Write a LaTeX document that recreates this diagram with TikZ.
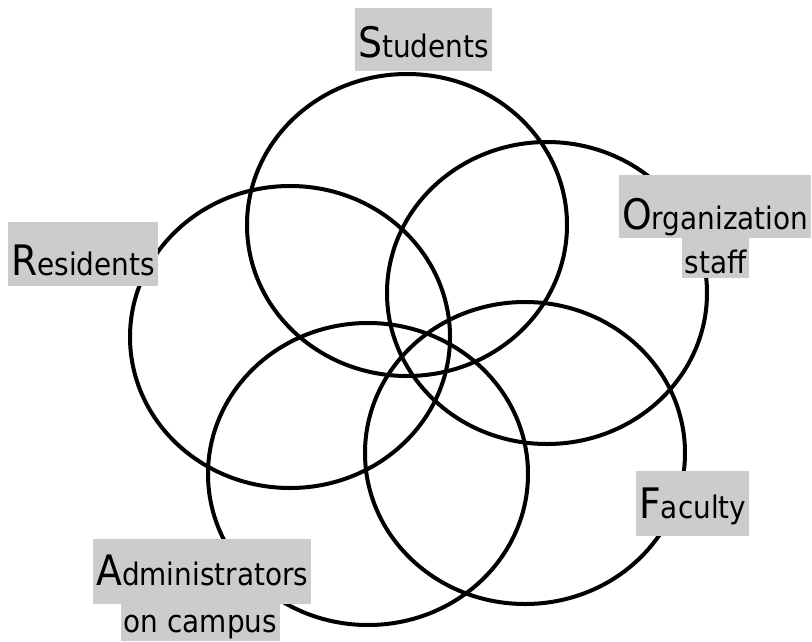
\documentclass[tikz,border=0pt]{standalone}
\usepackage{fontspec}
\setmainfont{DejaVu Sans}[FakeStretch=0.9]
\usetikzlibrary{shapes.geometric}
\definecolor{lg}{RGB}{204,204,204}
\newcommand\lblbig[1]{{\fontsize{42}{42}\selectfont #1}}
\begin{document}
\begin{tikzpicture}[x=1pt,y=-1pt,
  ring/.style={draw=black, line width=4pt, ellipse, minimum width=320pt, minimum height=302pt, inner sep=0pt},
  lab/.style={fill=lg, inner xsep=3pt, inner ysep=0pt, anchor=north west, font=\fontsize{31}{31}\selectfont},
  labtwo/.style={fill=lg, inner xsep=3pt, inner ysep=0pt, anchor=north, font=\fontsize{31}{31}\selectfont}
]
\useasboundingbox (0,0) rectangle (812,641);
% circles
\node[ring] (cstudents) at (407,225) {};
\node[ring] (corg) at (547,293) {};
\node[ring] (cres) at (290,337) {};
\node[ring] (cadm) at (368,474) {};
\node[ring] (cfac) at (525,453) {};
% labels
\node[lab, text height=49pt, text depth=14pt] (lstudents) at (355,8) {\lblbig{S}tudents};
\node[lab, text height=54pt, text depth=9pt] (lorg) at (619,175) {\lblbig{O}rganization};
\node[labtwo, text height=35pt, text depth=5pt] (lorgb) at (715.5,238) {staff};
\node[lab, text height=53pt, text depth=11pt] (lres) at (8,222) {\lblbig{R}esidents};
\node[lab, text height=47pt, text depth=18pt] (lfac) at (636,471) {\lblbig{F}aculty};
\node[lab, text height=46pt, text depth=19pt] (ladm) at (93,539) {\lblbig{A}dministrators};
\node[labtwo, text height=28pt, text depth=9pt] (ladmb) at (200.5,604) {on campus};
\end{tikzpicture}
\end{document}
